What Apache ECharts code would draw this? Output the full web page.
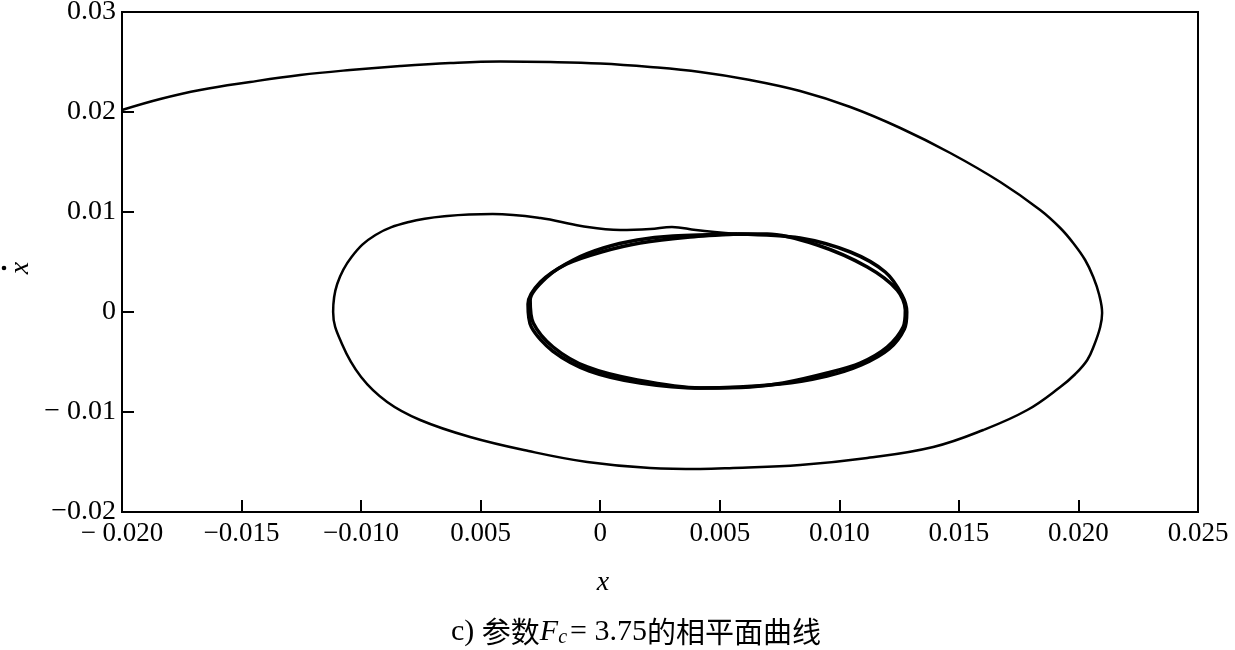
<!DOCTYPE html>
<html>
<head>
<meta charset="utf-8">
<script src="https://cdn.jsdelivr.net/npm/echarts@6/dist/echarts.min.js"></script>
<style>html,body{margin:0;padding:0;background:#fff;}#c{width:1235px;height:650px;}</style>
</head>
<body>
<div id="c"></div>
<script>
// x tick values and their printed labels (as printed in the figure)
var xTickValues = [-0.02, -0.015, -0.01, -0.005, 0, 0.005, 0.01, 0.015, 0.02, 0.025];
var xTickLabels = ['\u2212 0.020', '\u22120.015', '\u22120.010', '0.005', '0', '0.005', '0.010', '0.015', '0.020', '0.025'];
var yTickValues = [-0.02, -0.01, 0, 0.01, 0.02, 0.03];
var yTickLabels = ['\u22120.02', '\u2212 0.01', '0', '0.01', '0.02', '0.03'];

// outer transient trajectory [x, xdot]
var outerX = [-0.02, -0.0184, -0.01673, -0.01464, -0.01255, -0.01046, -0.00836, -0.00627, -0.00418, -0.00209, 0, 0.00209, 0.00418, 0.00627, 0.00836, 0.01046, 0.01255, 0.01464, 0.01673, 0.01840, 0.01924, 0.01978, 0.02028, 0.02062, 0.02087, 0.02099, 0.02091, 0.02066, 0.02037, 0.01987, 0.01924, 0.01786, 0.01602, 0.01393, 0.01117, 0.00836, 0.00556, 0.00418, 0.00209, -0.00054, -0.00300, -0.00544, -0.00753, -0.00891, -0.01000, -0.01080, -0.01117, -0.01100, -0.01040, -0.00940, -0.00800, -0.00640, -0.00450, -0.00250, -0.00080, 0.00084, 0.00209, 0.00300, 0.00400, 0.00573];
var outerY = [0.0202, 0.0213, 0.0222, 0.0230, 0.0237, 0.0242, 0.0246, 0.0249, 0.02505, 0.0250, 0.02485, 0.0245, 0.0240, 0.0232, 0.0221, 0.0205, 0.0184, 0.0159, 0.0130, 0.0102, 0.0084, 0.0069, 0.0052, 0.0035, 0.0017, -0.0001, -0.0015, -0.0033, -0.0048, -0.0062, -0.0075, -0.0098, -0.0118, -0.0135, -0.0146, -0.0153, -0.0156, -0.0157, -0.0156, -0.0150, -0.0139, -0.0125, -0.0108, -0.0090, -0.0065, -0.0032, 0.0000, 0.0028, 0.0055, 0.0077, 0.0090, 0.0096, 0.0098, 0.0094, 0.0086, 0.0082, 0.0083, 0.0085, 0.0082, 0.0078];

// inner limit cycle, first pass
var innerX1 = [0.00573, 0.00698, 0.00908, 0.01117, 0.01242, 0.01276, 0.01267, 0.01200, 0.01087, 0.00949, 0.00765, 0.00627, 0.00418, 0.00155, -0.00054, -0.00197, -0.0028, -0.00293, -0.00222, -0.00113, 0.00013, 0.00155, 0.00305, 0.00573];
var innerY1 = [0.0078, 0.0078, 0.0067, 0.0045, 0.0022, 0.0002, -0.0015, -0.0035, -0.0051, -0.0061, -0.0071, -0.0075, -0.0076, -0.0068, -0.0055, -0.0035, -0.0011, 0.0012, 0.0035, 0.0052, 0.0064, 0.0072, 0.0076, 0.0078];
// inner limit cycle, later passes (slightly wider band)
var innerX2 = [0.00573, 0.00836, 0.01046, 0.01192, 0.01262, 0.01282, 0.01272, 0.01208, 0.01092, 0.00949, 0.00753, 0.00418, 0.00167, -0.00045, -0.00199, -0.00288, -0.00302, -0.00250, -0.00140, 0.00005, 0.00167, 0.00376, 0.00573];
var innerY2 = [0.0078, 0.0074, 0.0060, 0.0040, 0.0017, 0, -0.0017, -0.0037, -0.0053, -0.0064, -0.0072, -0.0076, -0.0071, -0.0059, -0.0039, -0.0015, 0.0008, 0.0030, 0.0048, 0.0060, 0.0069, 0.0075, 0.0078];

function zip(a, b) { return a.map(function (v, i) { return [v, b[i]]; }); }
function lab(values, labels) {
  return function (v) {
    for (var i = 0; i < values.length; i++) if (Math.abs(values[i] - v) < 1e-9) return labels[i];
    return '';
  };
}
var serif = '"Liberation Serif", "DejaVu Serif", serif';
var chart = echarts.init(document.getElementById('c'), null, {renderer: 'canvas'});
chart.setOption({
  animation: false,
  backgroundColor: '#fff',
  grid: {left: 122, right: 37, top: 12, bottom: 138, show: true, borderColor: '#000', borderWidth: 2, containLabel: false, outerBoundsMode: 'none'},
  xAxis: {
    type: 'value', min: -0.02, max: 0.025, interval: 0.005,
    axisLine: {show: true, onZero: false, lineStyle: {color: '#000', width: 2}},
    axisTick: {show: true, inside: true, length: 12, lineStyle: {color: '#000', width: 2}},
    splitLine: {show: false},
    axisLabel: {formatter: lab(xTickValues, xTickLabels), color: '#000', fontFamily: serif, fontSize: 27, margin: 8, showMinLabel: true, showMaxLabel: true, hideOverlap: false}
  },
  yAxis: {
    type: 'value', min: -0.02, max: 0.03, interval: 0.01,
    axisLine: {show: true, onZero: false, lineStyle: {color: '#000', width: 2}},
    axisTick: {show: true, inside: true, length: 12, lineStyle: {color: '#000', width: 2}},
    splitLine: {show: false},
    axisLabel: {formatter: lab(yTickValues, yTickLabels), color: '#000', fontFamily: serif, fontSize: 28, margin: 6, showMinLabel: true, showMaxLabel: true}
  },
  graphic: [
    // y-axis name: x with a dot (time derivative), rotated to read bottom-to-top
    {type: 'group', x: 21, y: 268, rotation: Math.PI / 2, children: [
      {type: 'text', style: {text: 'x', font: 'italic 28px ' + serif, fill: '#000', align: 'center', verticalAlign: 'middle'}},
      {type: 'circle', shape: {cx: 0, cy: -17, r: 2.3}, style: {fill: '#000'}}
    ]},
    {type: 'text', x: 603, y: 583, style: {text: 'x', font: 'italic 28px ' + serif, fill: '#000', align: 'center', verticalAlign: 'middle'}},
    {type: 'text', x: 636, y: 632, style: {
      align: 'center', verticalAlign: 'middle',
      rich: {
        n: {font: '30px ' + serif, fill: '#000'},
        c: {font: '29px "Noto Sans CJK SC", sans-serif', fill: '#000'},
        f: {font: 'italic 30px ' + serif, fill: '#000'},
        s: {font: 'italic 20px ' + serif, fill: '#000', padding: [12, 3, 0, 0]}
      },
      text: '{n|c) }{c|参数}{f|F}{s|c}{n|= 3.75}{c|的相平面曲线}'
    }}
  ],
  series: [
    {type: 'line', data: zip(outerX, outerY), showSymbol: false, smooth: 0.4, lineStyle: {color: '#000', width: 2.5}, clip: true},
    {type: 'line', data: zip(innerX1, innerY1), showSymbol: false, smooth: 0.3, lineStyle: {color: '#000', width: 3.5}},
    {type: 'line', data: zip(innerX2, innerY2), showSymbol: false, smooth: 0.3, lineStyle: {color: '#000', width: 3.5}}
  ]
});
</script>
</body>
</html>
